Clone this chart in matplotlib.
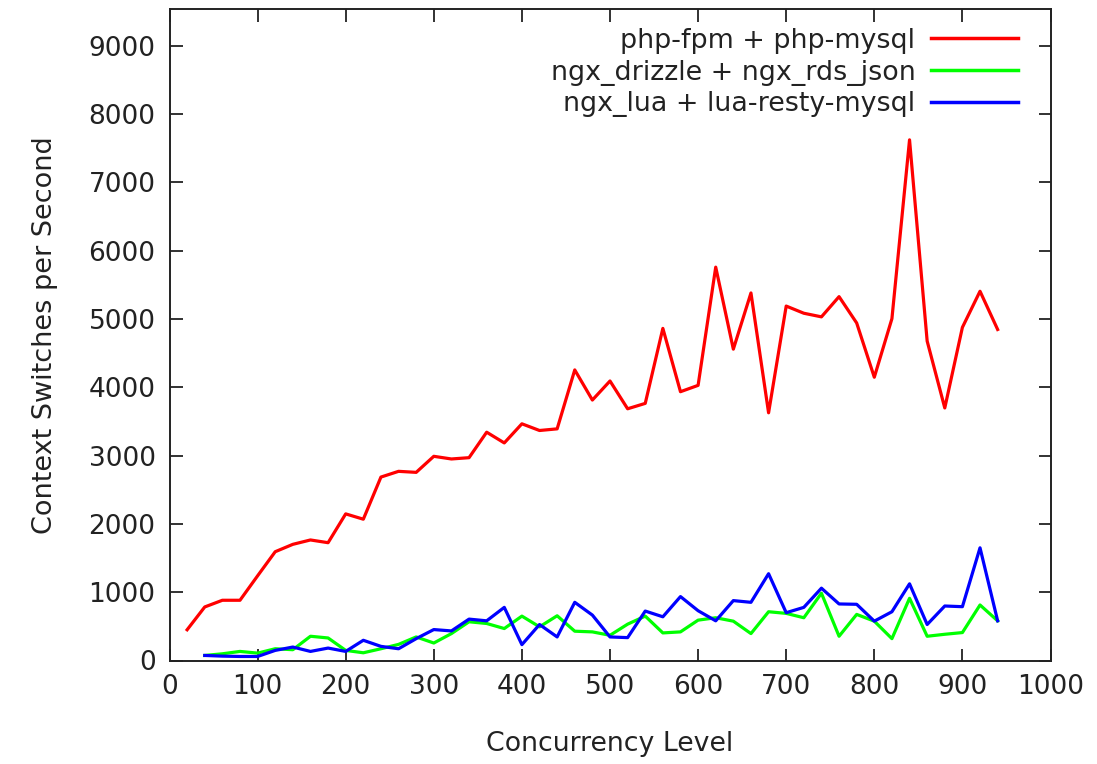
import matplotlib
matplotlib.use("Agg")
import matplotlib.pyplot as plt
from matplotlib.ticker import MultipleLocator

x_php = [20, 40, 60, 80, 100, 120, 140, 160, 180, 200, 220, 240, 260, 280, 300,
         320, 340, 360, 380, 400, 420, 440, 460, 480, 500, 520, 540, 560, 580, 600,
         620, 640, 660, 680, 700, 720, 740, 760, 780, 800, 820, 840, 860, 880, 900,
         920, 940]
php_fpm = [450, 784, 882, 882, 1240, 1593, 1701, 1765, 1725, 2147, 2069, 2686, 2770, 2755, 2990,
           2951, 2970, 3343, 3186, 3466, 3368, 3392, 4255, 3814, 4093, 3686, 3765, 4863, 3936, 4029,
           5760, 4559, 5382, 3627, 5190, 5085, 5032, 5328, 4942, 4148, 5005, 7624, 4677, 3698, 4878,
           5407, 4847]

x_ngx = x_php[1:]
ngx_drizzle = [74, 98, 133, 108, 172, 158, 355, 330, 148, 113, 172, 236, 345, 256,
               394, 567, 542, 468, 650, 493, 655, 429, 419, 369, 532, 650, 404, 419, 591,
               626, 576, 394, 714, 690, 626, 985, 355, 675, 576, 320, 911, 355, 384, 409,
               813, 581]
ngx_lua = [74, 64, 59, 59, 148, 197, 133, 182, 133, 296, 207, 172, 320, 453,
           433, 606, 581, 778, 232, 527, 345, 852, 665, 345, 335, 724, 640, 936, 729,
           581, 877, 852, 1271, 700, 778, 1059, 828, 823, 576, 714, 1123, 527, 798, 788,
           1650, 581]

labels = ["php-fpm + php-mysql", "ngx_drizzle + ngx_rds_json", "ngx_lua + lua-resty-mysql"]
colors = ["#ff0000", "#00ff00", "#0000ff"]

plt.rcParams['font.family'] = ['DejaVu Sans']
fig = plt.figure(figsize=(10.97, 7.64), dpi=100)
ax = fig.add_axes([169.5 / 1097, 1 - 660.5 / 764, (1050.5 - 169.5) / 1097, (660.5 - 9) / 764])

lw = 2.3
ax.plot(x_php, php_fpm, color=colors[0], lw=lw, label=labels[0])
ax.plot(x_ngx, ngx_drizzle, color=colors[1], lw=lw, label=labels[1])
ax.plot(x_ngx, ngx_lua, color=colors[2], lw=lw, label=labels[2])

ax.set_xlim(0, 1000)
ax.set_ylim(0, 9540)
ax.xaxis.set_major_locator(MultipleLocator(100))
ax.yaxis.set_major_locator(MultipleLocator(1000))
ax.tick_params(direction='in', length=9, width=1.3, top=True, right=True,
               labelsize=19, colors='#222222', pad=10)
for s in ax.spines.values():
    s.set_linewidth(1.4)
    s.set_color('#222222')

ax.set_xlabel("Concurrency Level", fontsize=19.3, color='#222222', labelpad=22)
ax.set_ylabel("Context Switches per Second", fontsize=19.5, color='#222222', labelpad=22)

leg = ax.legend(loc='upper right', bbox_to_anchor=(0.975, 0.988), markerfirst=False,
                frameon=False, fontsize=19.4, handlelength=3.2, handletextpad=0.6,
                labelspacing=0.22, borderaxespad=0)
for t in leg.get_texts():
    t.set_color('#222222')
for h in leg.get_lines():
    h.set_linewidth(2.5)

fig.savefig("out.png", dpi=100)
